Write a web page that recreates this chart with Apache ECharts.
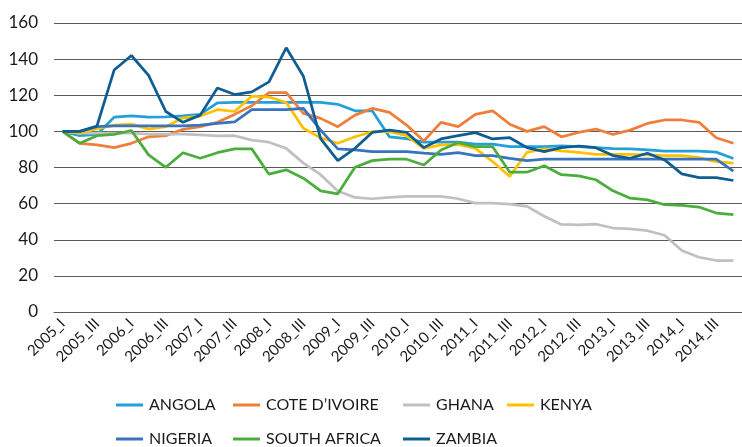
<!DOCTYPE html>
<html>
<head>
<meta charset="utf-8">
<script src="https://cdn.jsdelivr.net/npm/echarts@6/dist/echarts.min.js"></script>
<style>
  html, body { margin: 0; padding: 0; background: #fff; }
  #chart { width: 742px; height: 447px; }
</style>
</head>
<body>
<div id="chart"></div>
<script>
// quarters 2005_I .. 2014_IV
const years = [2005, 2006, 2007, 2008, 2009, 2010, 2011, 2012, 2013, 2014];
const quarterNames = ["I", "II", "III", "IV"];
const quarters = [];
years.forEach((y) => quarterNames.forEach((q) => quarters.push(y + "_" + q)));

// values (index, 2005_I = 100)
const angola = [100, 97.6, 98.3, 107.9, 108.6, 107.9, 108, 108.6, 109.4, 115.8,
  116, 116, 116, 116, 116, 116, 115, 111.4, 111.4, 97,
  96, 94, 94, 94, 93, 93, 91.5, 91.5, 91.5, 92,
  91.5, 91, 90.5, 90.3, 89.7, 89, 89, 89, 88.5, 85];
const coteDivoire = [100, 93.4, 92.5, 91, 93.4, 97, 97.6, 101.1, 102.6, 105,
  109.4, 114.2, 121.5, 121.5, 110, 107.2, 102.6, 109, 112.7, 110.5,
  103.5, 94.7, 105, 102.6, 109.4, 111.4, 104, 100, 102.6, 97,
  99.4, 101.3, 98.3, 100.7, 104.4, 106.3, 106.3, 105, 96.5, 93.4];
const ghana = [100, 99, 99, 99, 99, 98.5, 98.5, 98.5, 98, 97.5,
  97.6, 95.2, 94, 90.6, 82.4, 76, 67, 63.4, 62.7, 63.4,
  64, 64, 64, 62.7, 60.3, 60.3, 59.7, 58.5, 53, 48.5,
  48.3, 48.7, 46.5, 46, 45, 42.5, 34, 30.3, 28.5, 28.5];
const kenya = [100, 99, 101.5, 103.5, 104, 101.3, 102.6, 107.5, 108.5, 112,
  111, 119.5, 119, 116, 101.7, 96.5, 93.4, 97, 99.8, 99.8,
  97.6, 90.6, 92.5, 92.8, 90.6, 83.3, 75, 88.4, 90.3, 89.2,
  88.4, 87.3, 87.3, 87.3, 87, 86.6, 86.6, 85.5, 83.3, 82.4];
const nigeria = [100, 100, 102.6, 103, 103, 103, 103, 103, 103.5, 104.4,
  105.3, 112, 112, 112, 112.7, 100.7, 90.3, 89.7, 88.8, 88.8,
  88.8, 88, 87.3, 88.2, 86.6, 86.6, 85.1, 83.8, 84.6, 84.6,
  84.6, 84.6, 84.6, 84.6, 84.6, 84.6, 84.6, 84.6, 84.6, 78];
const southAfrica = [100, 93.4, 97.6, 98.3, 100.5, 87, 80.1, 88.2, 85.1, 88.2,
  90.3, 90.3, 76.3, 78.7, 74.1, 67.1, 65.4, 80.1, 83.8, 84.6,
  84.6, 81.4, 89.7, 93.8, 91.5, 91.5, 77.4, 77.4, 81, 76,
  75.4, 73.2, 67.1, 63, 62.1, 59.4, 59, 58.1, 54.8, 53.9];
const zambia = [100, 100, 103, 134, 142, 131, 111, 105, 109, 124,
  120.4, 121.9, 127.4, 146.3, 130.5, 96, 83.8, 90.6, 99.4, 100.7,
  99.4, 91, 95.8, 97.6, 99.3, 95.8, 96.5, 91, 88.8, 91,
  91.9, 91, 86.6, 85.1, 87.9, 84.2, 76.5, 74.4, 74.4, 72.8];

const seriesList = [
  { name: "ANGOLA", data: angola, color: "#22a0da" },
  { name: "COTE D\u2019IVOIRE", data: coteDivoire, color: "#ef7e3a" },
  { name: "GHANA", data: ghana, color: "#c0c0c0" },
  { name: "KENYA", data: kenya, color: "#ffc000" },
  { name: "NIGERIA", data: nigeria, color: "#3873bd" },
  { name: "SOUTH AFRICA", data: southAfrica, color: "#4bad3c" },
  { name: "ZAMBIA", data: zambia, color: "#0e5e93" },
];

const font = "Lato, 'Open Sans', sans-serif";

// legend columns like the original (two rows, aligned columns)
const legendColumns = [
  { left: 116, names: ["ANGOLA", "NIGERIA"] },
  { left: 233, names: ["COTE D\u2019IVOIRE", "SOUTH AFRICA"] },
  { left: 403, names: ["GHANA", "ZAMBIA"] },
  { left: 507, names: ["KENYA"] },
];

const myChart = echarts.init(document.getElementById("chart"));
const option = {
  animation: false,
  color: seriesList.map((s) => s.color),
  grid: {
    left: 54,
    right: -6,
    top: 23,
    bottom: 135,
    containLabel: false,
  },
  legend: legendColumns.map((c) => ({
    orient: "vertical",
    left: c.left,
    top: 397,
    height: 80,
    padding: 0,
    itemGap: 18,
    icon: "rect",
    itemWidth: 27,
    itemHeight: 3,
    data: c.names,
    textStyle: { fontFamily: font, fontSize: 16, color: "#1a1a1a", padding: [0, 0, 0, 1] },
  })),
  xAxis: {
    type: "category",
    data: quarters,
    boundaryGap: true,
    axisLine: { lineStyle: { color: "#5a5a5a", width: 1 } },
    axisTick: { show: false },
    axisLabel: {
      interval: 1,
      rotate: 45,
      margin: 9,
      fontFamily: font,
      fontSize: 15,
      color: "#1a1a1a",
    },
  },
  yAxis: {
    type: "value",
    min: 0,
    max: 160,
    interval: 20,
    axisLine: { show: false },
    axisTick: { show: false },
    splitLine: { lineStyle: { color: "#5a5a5a", width: 1 } },
    axisLabel: {
      margin: 16,
      fontFamily: font,
      fontSize: 17,
      color: "#1a1a1a",
    },
  },
  series: seriesList.map((s) => ({
    name: s.name,
    type: "line",
    data: s.data,
    symbol: "none",
    lineStyle: { width: 2.75, color: s.color },
    itemStyle: { color: s.color },
  })),
};

option && myChart.setOption(option);
</script>
</body>
</html>
